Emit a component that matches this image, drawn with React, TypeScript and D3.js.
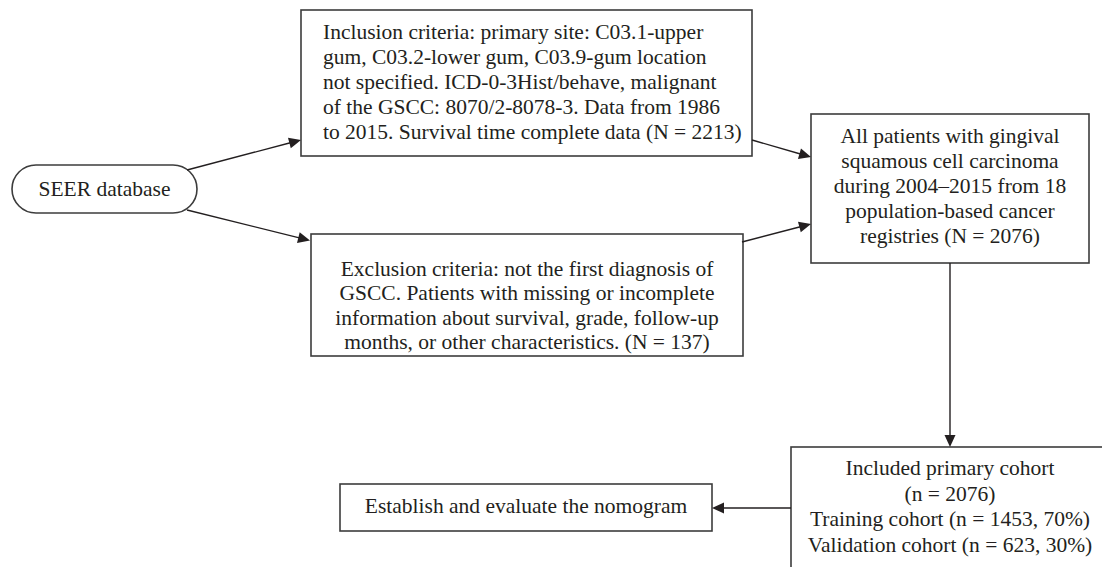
import * as d3 from "d3";
import React from "react";

// box texts
const seerLines = ["SEER database"];
const inclusionLines = [
  "Inclusion criteria: primary site: C03.1-upper",
  "gum, C03.2-lower gum, C03.9-gum location",
  "not specified. ICD-0-3Hist/behave, malignant",
  "of the GSCC: 8070/2-8078-3. Data from 1986",
  "to 2015. Survival time complete data (N = 2213)",
];
const exclusionLines = [
  "Exclusion criteria: not the first diagnosis of",
  "GSCC. Patients with missing or incomplete",
  "information about survival, grade, follow-up",
  "months, or other characteristics. (N = 137)",
];
const allPatientsLines = [
  "All patients with gingival",
  "squamous cell carcinoma",
  "during 2004\u20132015 from 18",
  "population-based cancer",
  "registries (N = 2076)",
];
const cohortLines = [
  "Included primary cohort",
  "(n = 2076)",
  "Training cohort (n = 1453, 70%)",
  "Validation cohort (n = 623, 30%)",
];
const nomogramLines = ["Establish and evaluate the nomogram"];

const width = 1102;
const height = 567;
const font = "'Liberation Serif', 'Times New Roman', serif";
const fontSize = 21.5;
const stroke = "#3c3c3c";
const ink = "#231f20";

type Node = {
  lines: string[];
  x0: number; x1: number; y0: number; y1: number;
  rx?: number;
  anchor: "start" | "middle";
  tx: number; first: number; step: number;
};

const nodes: Node[] = [
  {lines: seerLines, x0: 12, x1: 197, y0: 165, y1: 213, rx: 24, anchor: "middle", tx: 104.5, first: 196, step: 0},
  {lines: inclusionLines, x0: 301, x1: 752, y0: 10, y1: 156, anchor: "start", tx: 323, first: 39, step: 25},
  {lines: exclusionLines, x0: 311, x1: 743, y0: 234, y1: 356, anchor: "middle", tx: 527, first: 276, step: 24.4},
  {lines: allPatientsLines, x0: 811, x1: 1089, y0: 114, y1: 263, anchor: "middle", tx: 950, first: 143, step: 25},
  {lines: cohortLines, x0: 791, x1: 1104, y0: 447, y1: 600, anchor: "middle", tx: 950, first: 475, step: 25.7},
  {lines: nomogramLines, x0: 340, x1: 712, y0: 484, y1: 531, anchor: "middle", tx: 526, first: 513, step: 0},
];

// connectors: [from, to]
const edges: [number, number][][] = [
  [[187, 170], [301, 140]],
  [[187, 210], [310, 240.5]],
  [[752, 140], [811, 157]],
  [[742, 242], [811, 224]],
  [[950, 263], [950, 447]],
  [[791, 508], [712, 508]],
];

const headLen = 12;
const headHalf = 5.5;

function arrowHead(p: number[], q: number[]) {
  const a = Math.atan2(q[1] - p[1], q[0] - p[0]);
  const bx = q[0] - headLen * Math.cos(a);
  const by = q[1] - headLen * Math.sin(a);
  const nx = -Math.sin(a) * headHalf;
  const ny = Math.cos(a) * headHalf;
  return [[q[0], q[1]], [bx + nx, by + ny], [bx - nx, by - ny]] as [number, number][];
}

export default function App() {
  const line = d3.line();
  return (
    <svg width={width} height={height} style={{position: "absolute", left: 0, top: 0, background: "#fff"}}>
      <rect width={width} height={height} fill="#fff"/>
      {nodes.map((n, i) => (
        <g key={i}>
          <rect x={n.x0} y={n.y0} width={n.x1 - n.x0} height={n.y1 - n.y0}
                rx={n.rx ?? 0} ry={n.rx ?? 0}
                fill="#fff" stroke={stroke} strokeWidth={1.6}/>
          <g fontFamily={font} fontSize={fontSize} fill={ink} textAnchor={n.anchor}>
            {n.lines.map((t, j) => (
              <text key={j} x={n.tx} y={n.first + j * n.step}>{t}</text>
            ))}
          </g>
        </g>
      ))}
      {edges.map(([p, q], i) => {
        const a = Math.atan2(q[1] - p[1], q[0] - p[0]);
        const end = [q[0] - (headLen - 1) * Math.cos(a), q[1] - (headLen - 1) * Math.sin(a)] as [number, number];
        return (
          <g key={i}>
            <path d={line([p as [number, number], end]) ?? ""} stroke={ink} strokeWidth={1.4} fill="none"/>
            <path d={(line(arrowHead(p, q)) ?? "") + "Z"} fill={ink}/>
          </g>
        );
      })}
    </svg>
  );
}
